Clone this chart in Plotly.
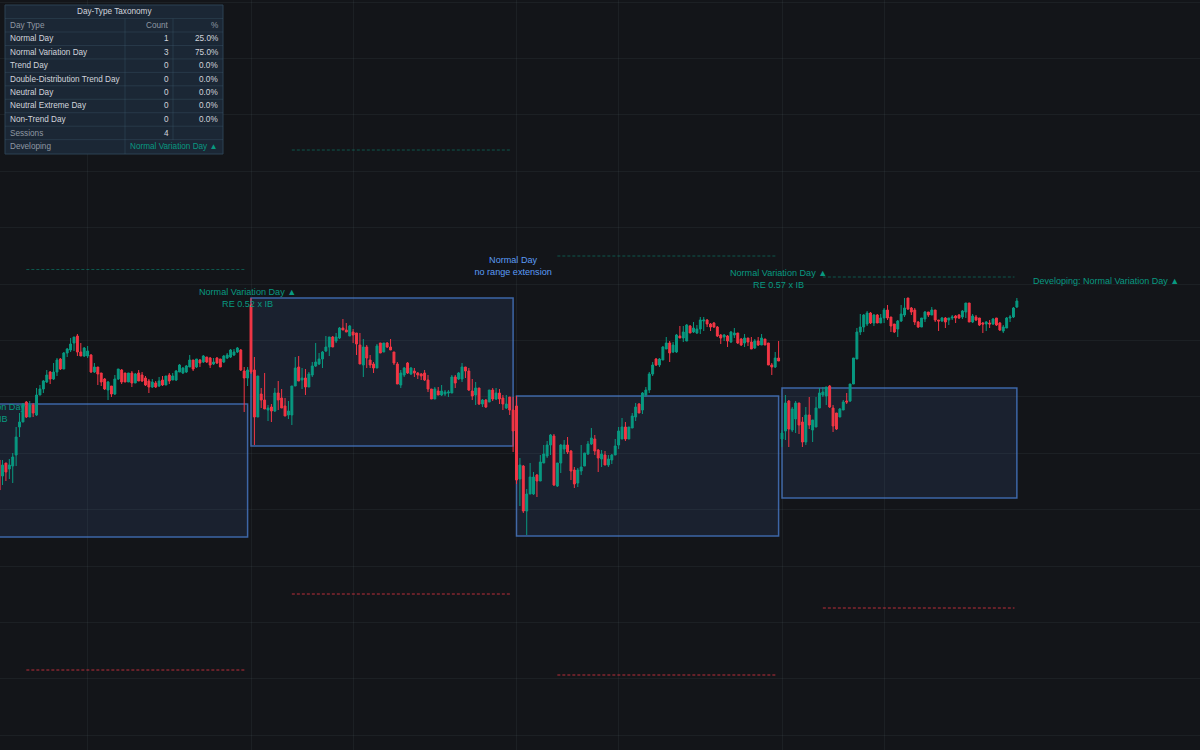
import plotly.graph_objects as go

# five minute bars, prices. four sessions, first one starts off screen
session_lengths = [74, 78, 78, 70]
first_bar = 4

bar_open = [
    290,274,287,281,284,295,323,328,348,333, 345,335,355,361,368,378,371,378,391,381,
    397,400,407,414,398,394,394,395,378,383, 377,371,360,364,356,371,380,377,368,377,
    367,377,375,372,369,363,367,364,370,365, 375,370,370,378,377,378,383,390,383,390,
    388,393,392,386,392,391,388,392,393,395, 398,400,379,372,
    445,380,333,356,350,340,343,339,357,352, 344,335,335,364,383,370,372,363,375,384,
    386,391,399,403,413,409,412,422,420,414, 418,417,405,385,403,390,386,382,407,398,
    407,403,398,386,365,375,387,376,379,377, 376,377,370,361,351,359,355,356,357,357,
    373,371,371,383,379,359,355,362,346,350, 348,360,351,357,352,342,353,340,
    344,271,284,239,256,256,275,269,287,294, 305,314,264,287,301,305,299,280,267,279,
    284,296,306,311,300,291,295,285,290,295, 305,311,323,311,322,333,346,340,355,360,
    376,391,385,390,401,407,398,398,414,412, 409,424,418,417,421,429,430,426,427,423,
    415,413,414,408,415,417,411,407,412,408, 402,409,405,411,407,385,383,392,
    311,319,349,320,331,347,328,308,335,320, 323,342,355,354,364,342,337,333,340,349,
    349,366,391,418,423,426,437,427,435,427, 432,440,433,426,421,429,435,452,442,440,
    428,423,431,438,435,440,430,429,432,430, 432,434,435,433,438,447,428,433,432,427,
    426,427,426,432,427,419,422,432,433,443,
]
bar_high = [
    292,290,287,291,297,323,337,347,349,349, 347,362,365,370,380,379,387,392,392,398,
    402,412,413,416,407,403,404,396,387,383, 377,372,369,364,375,381,381,377,377,379,
    377,380,378,374,371,371,369,373,374,374, 377,377,380,386,383,385,395,390,391,391,
    395,393,393,392,393,391,395,397,401,401, 403,401,383,383,
    452,393,374,362,377,345,346,362,369,361, 352,349,364,393,394,382,381,378,388,407,
    397,399,414,413,414,417,423,431,427,425, 421,417,417,411,405,395,388,406,407,407,
    408,411,398,388,380,383,388,383,382,378, 377,380,375,361,363,363,365,360,360,375,
    375,378,387,383,382,371,368,362,351,351, 360,362,362,361,355,355,353,353,
    354,292,285,261,287,278,276,295,305,309, 316,316,287,306,310,313,300,283,282,305,
    297,309,322,315,301,300,299,295,296,311, 323,332,328,323,337,347,347,358,363,378,
    388,392,392,404,413,409,408,416,424,424, 426,425,428,425,433,433,431,427,428,424,
    416,416,415,419,422,417,412,416,412,413, 411,413,416,411,407,387,398,409,
    320,355,350,343,349,347,333,343,353,330, 353,362,363,363,365,345,337,342,350,357,
    366,392,422,436,436,439,438,436,436,436, 442,445,433,426,430,445,452,452,443,442,
    429,432,439,438,443,440,430,433,433,432, 435,435,436,440,447,447,436,435,432,428,
    429,430,432,432,428,425,433,435,443,452,
]
bar_low = [
    253,265,269,271,267,284,313,328,332,333, 333,334,355,357,367,366,370,374,380,381,
    393,398,399,394,394,393,392,377,377,365, 364,360,350,353,355,370,366,368,368,363,
    367,369,368,364,357,362,362,363,364,365, 366,370,369,378,376,377,383,379,382,383,
    387,387,382,385,386,383,387,391,392,394, 397,379,338,364,
    376,305,333,342,341,329,328,338,340,342, 334,331,325,364,369,361,355,363,373,383,
    385,382,398,394,403,407,411,420,418,414, 407,395,386,373,382,382,377,382,397,398,
    402,400,385,366,362,373,376,375,373,371, 370,369,358,351,351,355,354,354,353,357,
    362,370,368,372,359,350,345,345,343,342, 348,349,350,346,340,341,335,298,
    266,244,237,215,256,255,253,269,287,292, 295,264,263,277,296,296,270,262,263,275,
    284,295,305,295,278,283,285,283,286,295, 301,311,309,311,322,329,337,336,353,357,
    374,384,383,390,401,388,397,397,412,408, 409,417,417,416,416,419,423,419,422,413,
    406,409,403,407,412,406,404,403,404,401, 401,404,405,405,385,375,382,389,
    303,310,303,318,317,316,303,305,321,308, 323,342,353,345,342,318,320,333,340,346,
    348,366,391,415,418,424,426,424,427,427, 427,430,418,417,413,428,433,440,435,425,
    422,423,428,433,435,428,419,428,422,425, 430,427,431,431,432,428,427,429,424,417,
    419,422,425,424,419,417,422,428,432,442,
]
bar_close = [
    260,285,278,285,293,313,328,346,333,345, 337,355,361,369,375,371,378,390,381,397,
    401,406,413,398,394,402,399,378,383,376, 368,361,368,356,371,381,368,368,377,367,
    376,369,369,365,363,368,363,369,365,374, 369,374,379,385,382,384,390,381,391,387,
    394,388,385,388,387,383,394,395,400,398, 402,380,372,380,
    378,333,374,350,341,342,339,357,350,342, 334,339,364,382,369,372,363,376,384,388,
    391,398,403,413,403,413,422,420,418,424, 415,406,386,403,392,385,382,404,397,407,
    403,400,387,366,377,382,377,382,377,375, 374,370,361,351,361,355,359,358,358,373,
    367,377,383,379,360,354,362,346,350,343, 360,351,357,351,346,346,340,319,
    270,285,239,256,273,273,269,288,296,305, 315,265,287,305,305,298,279,266,280,283,
    297,306,312,299,292,296,285,291,295,304, 319,323,311,323,334,343,337,357,360,376,
    385,385,391,403,407,397,405,415,412,418, 425,417,422,421,430,430,426,423,423,414,
    412,415,409,418,417,407,405,412,408,401, 409,405,412,405,385,383,392,389,
    317,347,321,341,347,325,308,335,325,330, 342,357,358,363,343,324,321,341,348,348,
    366,392,418,423,435,437,427,435,427,432, 440,432,424,418,429,436,442,441,438,428,
    423,432,438,435,440,430,429,432,428,432, 433,432,432,439,447,428,434,430,425,426,
    428,426,431,425,420,423,432,433,442,449,
]

# initial balance and range targets per session
ib_high = [346, 452, 354, 362]
ib_low = [213, 304, 214, 252]
target_high = [480.5, 600, 494, 473]
target_low = [80, 156, 75, 142]

session_labels = [
    "Normal Variation Day<br>RE 0.52 x IB",
    "Normal Variation Day ▲<br>RE 0.52 x IB",
    "Normal Day<br>no range extension",
    "Normal Variation Day ▲<br>RE 0.57 x IB",
]
label_y = [336, 451, 483, 470]
developing_label = "Developing: Normal Variation Day ▲"
developing_y = 468

table_title = "Day-Type Taxonomy"
table_columns = ["Day Type", "Count", "%"]
day_types = ["Normal Day", "Normal Variation Day", "Trend Day", "Double-Distribution Trend Day",
             "Neutral Day", "Neutral Extreme Day", "Non-Trend Day"]
day_counts = [1, 3, 0, 0, 0, 0, 0]
day_pcts = ["25.0%", "75.0%", "0.0%", "0.0%", "0.0%", "0.0%", "0.0%"]
sessions_count = 4
developing_type = "Normal Variation Day ▲"

BG = "#131519"
GRID = "rgba(120,140,160,0.09)"
UP = "#089981"
DOWN = "#f23645"
BLUE = "#5b9cf6"
FONT = "Liberation Sans"

# session start / end positions on the bar axis
starts = [0, 78, 156, 234]
ends = [starts[i] + (77 if i < 3 else session_lengths[i] - 1) for i in range(4)]
bar_x = list(range(first_bar, first_bar + sum(session_lengths)))

fig = go.Figure()

fig.add_trace(go.Candlestick(
    x=bar_x, open=bar_open, high=bar_high, low=bar_low, close=bar_close,
    increasing=dict(line=dict(color=UP, width=1), fillcolor=UP),
    decreasing=dict(line=dict(color=DOWN, width=1), fillcolor=DOWN),
    whiskerwidth=0, showlegend=False, hoverinfo='skip'))

for i in range(4):
    fig.add_shape(type='rect', x0=starts[i], x1=ends[i], y0=ib_low[i], y1=ib_high[i],
                  line=dict(color="#3d66a6", width=1.5), fillcolor="rgba(55,85,135,0.2)", layer='below')
    line_x = [starts[i] + 12, ends[i] - 0.7]
    fig.add_trace(go.Scatter(x=line_x, y=[target_high[i]] * 2, mode='lines', showlegend=False, hoverinfo='skip',
                             line=dict(color="rgba(8,153,129,0.5)", width=1, dash='3px,2px')))
    fig.add_trace(go.Scatter(x=line_x, y=[target_low[i]] * 2, mode='lines', showlegend=False, hoverinfo='skip',
                             line=dict(color="rgba(242,54,69,0.75)", width=1, dash='3px,2px')))

label_colors = [UP, UP, BLUE, UP]
fig.add_trace(go.Scatter(x=[s - 1 for s in starts], y=label_y, mode='text', text=session_labels,
                         textposition='middle center', textfont=dict(family=FONT, size=9.1, color=label_colors),
                         showlegend=False, hoverinfo='skip'))
fig.add_trace(go.Scatter(x=[329.2], y=[developing_y], mode='text', text=[developing_label],
                         textposition='middle center', textfont=dict(family=FONT, size=9, color=UP),
                         showlegend=False, hoverinfo='skip'))


# the table sits in paper space, pixel positions from the picture
def px(v):
    return v / 1200


def py(v):
    return 1 - v / 750


def table_text(text, x, y, anchor, color, size=8.2):
    fig.add_annotation(text=text, x=px(x), y=py(y), xref='paper', yref='paper', xanchor=anchor, yanchor='middle',
                       showarrow=False, borderpad=0, font=dict(family=FONT, size=size, color=color))


def table_line(x0, y0, x1, y1, color="rgba(70,100,120,0.3)"):
    fig.add_shape(type='line', xref='paper', yref='paper', x0=px(x0), x1=px(x1), y0=py(y0), y1=py(y1),
                  line=dict(color=color, width=1), layer='above')


fig.add_shape(type='rect', xref='paper', yref='paper', x0=px(5), x1=px(223), y0=py(5), y1=py(154),
              fillcolor="#1b2735", line=dict(color="#2c4354", width=1), layer='above')

row_h = 13.45
first_row = 25.3
for r in range(10):
    table_line(5, first_row - row_h / 2 + r * row_h, 223, first_row - row_h / 2 + r * row_h)
table_line(125, 18.5, 125, 154)
table_line(173, 18.5, 173, 140)

table_text(table_title, 114, 11.8, 'center', "#d1d4dc")
table_text(table_columns[0], 9, first_row, 'left', "#8f98a3")
table_text(table_columns[1], 170, first_row, 'right', "#8f98a3")
table_text(table_columns[2], 219, first_row, 'right', "#8f98a3")
for r in range(len(day_types)):
    y = first_row + (r + 1) * row_h
    table_text(day_types[r], 9, y, 'left', "#d1d4dc")
    table_text(str(day_counts[r]), 170, y, 'right', "#d1d4dc")
    table_text(day_pcts[r], 219, y, 'right', "#d1d4dc")
table_text("Sessions", 9, first_row + 8.05 * row_h, 'left', "#8f98a3")
table_text(str(sessions_count), 170, first_row + 8.05 * row_h, 'right', "#d1d4dc")
table_text("Developing", 9, first_row + 9 * row_h, 'left', "#8f98a3")
table_text(developing_type, 219, first_row + 9 * row_h, 'right', UP)

fig.update_xaxes(range=[4.26, 356.8], tickvals=[0, 30, 78, 108, 156, 186, 234, 264], showticklabels=False,
                 showgrid=True, gridcolor=GRID, gridwidth=1, zeroline=False, showline=False,
                 rangeslider_visible=False, ticks='')
fig.update_yaxes(range=[0, 750], tick0=14.7, dtick=56.4, showticklabels=False, showgrid=True,
                 gridcolor=GRID, gridwidth=1, zeroline=False, showline=False, ticks='')
fig.update_layout(width=1200, height=750, margin=dict(l=0, r=0, t=0, b=0), paper_bgcolor=BG, plot_bgcolor=BG,
                  showlegend=False, hovermode=False, font=dict(family=FONT), boxgap=0.2)

# drop the browser's default page margin so the chart fills the window
fig.write_html("out.html", config=dict(displayModeBar=False), post_script="document.body.style.margin='0';")
